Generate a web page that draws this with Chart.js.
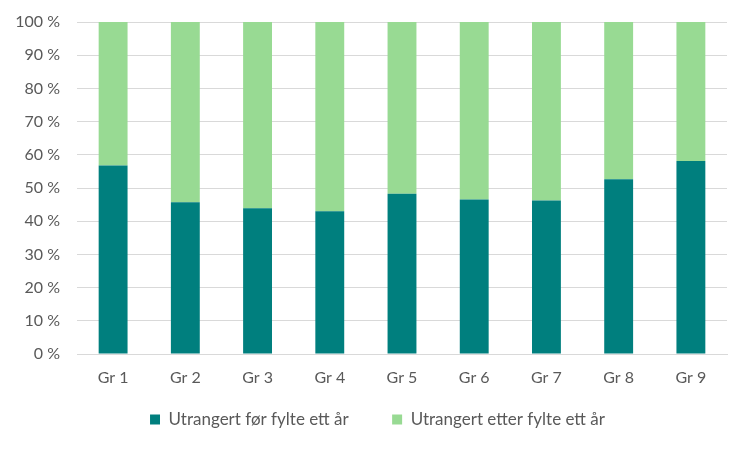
<!DOCTYPE html>
<html><head><meta charset="utf-8">
<script src="https://cdn.jsdelivr.net/npm/chart.js@4"></script>
<style>html,body{margin:0;padding:0;background:#fff}#w{width:750px;height:450px}</style>
</head><body><div id="w"><canvas id="c"></canvas></div>
<script>
const categories = ["Gr 1","Gr 2","Gr 3","Gr 4","Gr 5","Gr 6","Gr 7","Gr 8","Gr 9"];
const before = [56.8, 45.7, 43.9, 43.0, 48.3, 46.5, 46.2, 52.6, 58.1];
const after = [43.2, 54.3, 56.1, 57.0, 51.7, 53.5, 53.8, 47.4, 41.9];
const seriesNames = ["Utrangert før fylte ett år", "Utrangert etter fylte ett år"];
const FONT = "Lato, 'Open Sans', sans-serif";
const legendShift = {
  id: 'legendShift',
  afterLayout(chart) { const l = chart.legend; if (l) { l.left += 14; l.right += 14; } }
};
new Chart(document.getElementById('c'), {
  type: 'bar',
  data: {
    labels: categories,
    datasets: [
      {label: seriesNames[0], data: before, backgroundColor: '#007F7E', categoryPercentage: 0.8, barPercentage: 0.5},
      {label: seriesNames[1], data: after, backgroundColor: '#98DA93', categoryPercentage: 0.8, barPercentage: 0.5}
    ]
  },
  plugins: [legendShift],
  options: {
    responsive: true, maintainAspectRatio: false, animation: false,
    layout: {padding: {left: 0, right: 23, top: 22, bottom: 12}},
    plugins: {
      tooltip: {enabled: false},
      legend: {position: 'bottom', labels: {boxWidth: 10, boxHeight: 10, padding: 22, color: '#595959', font: {family: FONT, size: 17},
        generateLabels: (chart) => {
          const items = Chart.defaults.plugins.legend.labels.generateLabels(chart);
          items.forEach((it, i) => { if (i < items.length - 1) it.text += '\u00A0'.repeat(5); });
          return items;
        }}}
    },
    scales: {
      x: {stacked: true, grid: {display: false, drawTicks: false}, border: {color: '#d9d9d9'},
          afterFit: s => { s.height = 35; },
          ticks: {color: '#595959', padding: 14, font: {family: FONT, size: 16}}},
      y: {stacked: true, min: 0, max: 100, grid: {color: '#d9d9d9', drawTicks: false}, border: {display: false},
          afterFit: s => { s.width = 77; s.paddingTop = 0; },
          ticks: {stepSize: 10, padding: 17, color: '#595959', font: {family: FONT, size: 16}, callback: v => v + ' %'}}
    }
  }
});
</script>
</body></html>
